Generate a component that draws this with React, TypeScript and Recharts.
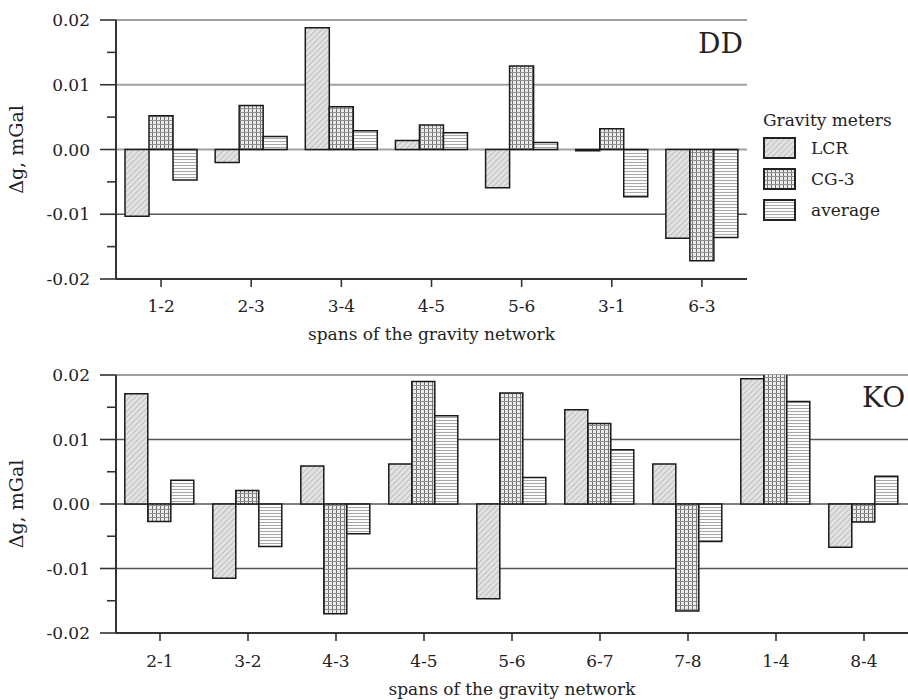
import React from 'react';
import { BarChart, Bar, XAxis, YAxis, CartesianGrid, Legend, Label } from 'recharts';

// ---------- data ----------
const topSpans = ['1-2', '2-3', '3-4', '4-5', '5-6', '3-1', '6-3'];
const topLCR = [-0.0103, -0.002, 0.0188, 0.0014, -0.0059, -0.0002, -0.0137];
const topCG3 = [0.0052, 0.0068, 0.0066, 0.0038, 0.0129, 0.0032, -0.0172];
const topAverage = [-0.0047, 0.002, 0.0029, 0.0026, 0.0011, -0.0073, -0.0136];

const bottomSpans = ['2-1', '3-2', '4-3', '4-5', '5-6', '6-7', '7-8', '1-4', '8-4'];
const bottomLCR = [0.0171, -0.0115, 0.0059, 0.0062, -0.0147, 0.0146, 0.0062, 0.0194, -0.0067];
const bottomCG3 = [-0.0027, 0.0021, -0.017, 0.019, 0.0172, 0.0125, -0.0166, 0.0204, -0.0028];
const bottomAverage = [0.0037, -0.0066, -0.0046, 0.0137, 0.0041, 0.0084, -0.0058, 0.0159, 0.0043];

const seriesNames = ['LCR', 'CG-3', 'average'];
const seriesKeys = ['lcr', 'cg3', 'avg'];
const majorTicks = [-0.02, -0.01, 0, 0.01, 0.02];
const allTicks = [-0.02, -0.015, -0.01, -0.005, 0, 0.005, 0.01, 0.015, 0.02];
const lightGridValues = [0.02, 0.01, 0];
const darkGridValues = [-0.01];
const bottomLightGridValues = [0.02];
const bottomDarkGridValues = [0.01, 0, -0.01];
const xTitle = 'spans of the gravity network';
const yTitle = 'Δg, mGal';
const legendTitle = 'Gravity meters';

const FONT = '"DejaVu Serif", "Liberation Serif", serif';
const TEXT = '#222';
const Y_TICK_SIZE = 16;
const Y_TICK_MARGIN = 10;

const buildRows = (cats: string[], a: number[], b: number[], c: number[]) =>
  cats.map((span, i) => ({ span, lcr: a[i], cg3: b[i], avg: c[i] }));

const topRows = buildRows(topSpans, topLCR, topCG3, topAverage);
const bottomRows = buildRows(bottomSpans, bottomLCR, bottomCG3, bottomAverage);

const renderPatterns = (p: string) => (
  <defs>
    <pattern id={`${p}-lcr`} patternUnits="userSpaceOnUse" width="4" height="4" patternTransform="rotate(45)">
      <rect width="4" height="4" fill="#e2e2e2" />
      <line x1="0" y1="0" x2="0" y2="4" stroke="#9c9c9c" strokeWidth="1" />
    </pattern>
    <pattern id={`${p}-cg3`} patternUnits="userSpaceOnUse" width="4" height="4">
      <rect width="4" height="4" fill="#ebebeb" />
      <line x1="0.5" y1="0" x2="0.5" y2="4" stroke="#707070" strokeWidth="1" />
      <line x1="0" y1="0.5" x2="4" y2="0.5" stroke="#909090" strokeWidth="1" />
    </pattern>
    <pattern id={`${p}-avg`} patternUnits="userSpaceOnUse" width="4" height="3">
      <rect width="4" height="3" fill="#fbfbfb" />
      <line x1="0" y1="0.5" x2="4" y2="0.5" stroke="#a8a8a8" strokeWidth="1" />
    </pattern>
  </defs>
);

const YTick = (props: any) => {
  const { x, y, payload } = props;
  const axisX = x + Y_TICK_SIZE + Y_TICK_MARGIN;
  const isMajor = majorTicks.some((t) => Math.abs(t - payload.value) < 1e-9);
  return (
    <g>
      <line x1={axisX - (isMajor ? Y_TICK_SIZE : 9)} x2={axisX} y1={y} y2={y} stroke="#333" strokeWidth={1.6} />
      {isMajor && (
        <text x={x} y={y} dy="0.36em" textAnchor="end" fill={TEXT} fontFamily={FONT} fontSize={17}>
          {Number(payload.value).toFixed(2)}
        </text>
      )}
    </g>
  );
};

const YTitle = (props: any) => {
  const vb = props.viewBox || {};
  const cx = 23;
  const cy = (vb.y || 0) + (vb.height || 0) / 2;
  return (
    <text
      x={cx}
      y={cy}
      transform={`rotate(-90 ${cx} ${cy})`}
      textAnchor="middle"
      fill={TEXT}
      fontFamily={FONT}
      fontSize={19}
    >
      {yTitle}
    </text>
  );
};

const LegendContent = () => (
  <div style={{ fontFamily: FONT, fontSize: 17, color: TEXT }}>
    <div style={{ height: 24, lineHeight: '24px', whiteSpace: 'nowrap' }}>{legendTitle}</div>
    {seriesNames.map((name, i) => (
      <div key={name} style={{ display: 'flex', alignItems: 'center', height: 31 }}>
        <svg width={33} height={22} style={{ display: 'block' }}>
          {renderPatterns('lg' + i)}
          <rect x={1} y={1} width={31} height={20} fill={`url(#lg${i}-${seriesKeys[i]})`} stroke="#222" strokeWidth={2} />
        </svg>
        <span style={{ marginLeft: 15, whiteSpace: 'nowrap' }}>{name}</span>
      </div>
    ))}
  </div>
);

type PanelProps = {
  rows: any[];
  prefix: string;
  height: number;
  margin: any;
  xHeight: number;
  xTickMargin: number;
  titleOffset: number;
  light: number[];
  dark: number[];
  lightColor: string;
  darkColor: string;
  withLegend?: boolean;
};

const Panel = (p: PanelProps) => (
  <BarChart
    width={908}
    height={p.height}
    data={p.rows}
    margin={p.margin}
    barCategoryGap="10%"
    barGap={0}
  >
    {renderPatterns(p.prefix)}
    <CartesianGrid
      vertical={false}
      stroke={p.lightColor}
      strokeWidth={2}
      horizontalValues={p.light}
    />
    <CartesianGrid
      vertical={false}
      stroke={p.darkColor}
      strokeWidth={1.4}
      horizontalValues={p.dark}
    />
    <XAxis
      dataKey="span"
      height={p.xHeight}
      tickSize={8}
      tickMargin={p.xTickMargin}
      axisLine={{ stroke: '#333', strokeWidth: 2 }}
      tickLine={{ stroke: '#333', strokeWidth: 1.6 }}
      tick={{ fill: TEXT, fontFamily: FONT, fontSize: 17 }}
      interval={0}
    >
      <Label
        value={xTitle}
        position="insideBottom"
        offset={p.titleOffset}
        fill={TEXT}
        fontFamily={FONT}
        fontSize={17}
      />
    </XAxis>
    <YAxis
      width={116}
      domain={[-0.02, 0.02]}
      ticks={allTicks}
      allowDataOverflow
      interval={0}
      tickSize={Y_TICK_SIZE}
      tickMargin={Y_TICK_MARGIN}
      tickLine={false}
      axisLine={{ stroke: '#333', strokeWidth: 2 }}
      tick={<YTick />}
    >
      <Label content={<YTitle />} />
    </YAxis>
    {p.withLegend && (
      <Legend
        layout="vertical"
        align="center"
        verticalAlign="middle"
        content={<LegendContent />}
        wrapperStyle={{ position: 'absolute', left: 763, top: 108, width: 145, height: 120 }}
      />
    )}
    {seriesKeys.map((k, i) => (
      <Bar
        key={k}
        dataKey={k}
        name={seriesNames[i]}
        fill={`url(#${p.prefix}-${k})`}
        stroke="#1a1a1a"
        strokeWidth={1.5}
        isAnimationActive={false}
      />
    ))}
  </BarChart>
);

export default function App() {
  return (
    <div style={{ position: 'absolute', left: 0, top: 0, width: 908, height: 700, background: '#fff', overflow: 'hidden' }}>
      <div style={{ position: 'absolute', left: 0, top: 0 }}>
        <Panel
          rows={topRows}
          prefix="t"
          height={345}
          margin={{ top: 20, right: 161, bottom: 0, left: 0 }}
          xHeight={66}
          xTickMargin={13}
          titleOffset={5}
          light={lightGridValues}
          dark={darkGridValues}
          lightColor="#a0a0a0"
          darkColor="#555"
          withLegend
        />
      </div>
      <div style={{ position: 'absolute', left: 0, top: 345 }}>
        <Panel
          rows={bottomRows}
          prefix="b"
          height={355}
          margin={{ top: 30, right: 0, bottom: 0, left: 0 }}
          xHeight={67}
          xTickMargin={14}
          titleOffset={5}
          light={bottomLightGridValues}
          dark={bottomDarkGridValues}
          lightColor="#a0a0a0"
          darkColor="#555"
        />
      </div>
      <svg width={908} height={700} style={{ position: 'absolute', left: 0, top: 0, pointerEvents: 'none' }}>
        <text x={743} y={53} textAnchor="end" fill={TEXT} fontFamily={FONT} fontSize={28}>DD</text>
        <text x={862} y={407} textAnchor="start" fill={TEXT} fontFamily={FONT} fontSize={28}>KO</text>
      </svg>
    </div>
  );
}
